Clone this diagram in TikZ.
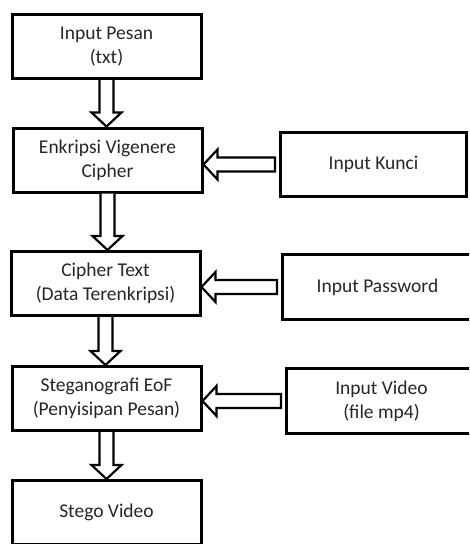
\documentclass[tikz,border=0pt]{standalone}
\usepackage{fontspec}
\setmainfont{Carlito}
\usetikzlibrary{positioning,calc}
\definecolor{inkgray}{HTML}{262626}
\tikzset{
  stepbox/.style={draw=black, line width=3pt, fill=white, minimum width=189pt, minimum height=64pt,
    align=center, text=inkgray, font=\fontsize{19.5}{24}\selectfont},
  inbox/.style={stepbox, minimum width=190pt, minimum height=65pt},
  blockarr/.style={draw=black, fill=white, line width=2.2pt, line join=miter}
}
% hollow block arrow, from #1 down to #2
\newcommand{\downblock}[2]{%
  \draw[blockarr] ($(#1.south)+(-7,0)$) -- ($(#1.south |- #2.north)+(-7,14)$)
    -- ($(#1.south |- #2.north)+(-15,14)$) -- (#1.south |- #2.north)
    -- ($(#1.south |- #2.north)+(15,14)$) -- ($(#1.south |- #2.north)+(7,14)$)
    -- ($(#1.south)+(7,0)$);}
% hollow block arrow, from #1 left to #2
\newcommand{\leftblock}[2]{%
  \draw[blockarr] ($(#1.west)+(-4,7)$) -- ($(#2.east |- #1.west)+(14,7)$)
    -- ($(#2.east |- #1.west)+(14,15)$) -- (#2.east |- #1.west)
    -- ($(#2.east |- #1.west)+(14,-15)$) -- ($(#2.east |- #1.west)+(14,-7)$)
    -- ($(#1.west)+(-4,-7)$) -- cycle;}

\begin{document}
\begin{tikzpicture}[x=1pt,y=1pt]
  \useasboundingbox (0,0) rectangle (469,-544);
  \clip (0,0) rectangle (469,-544);

  \node[stepbox] (pesan) at (106.5,-46.5) {Input Pesan\\(txt)};
  \node[stepbox] (enkripsi) at (107.5,-160) {Enkripsi Vigenere\\Cipher};
  \node[stepbox] (cipher) at (105.5,-283.5) {Cipher Text\\(Data Terenkripsi)};
  \node[stepbox] (stegano) at (106.5,-398.5) {Steganografi EoF\\(Penyisipan Pesan)};
  \node[stepbox] (stegovideo) at (106.5,-512.5) {Stego Video};

  \node[inbox, minimum width=186pt, minimum height=64pt] (kunci) at (373.5,-164.5) {Input Kunci};
  \node[inbox] (password) at (377.5,-287) {Input Password};
  \node[inbox] (video) at (381.5,-401) {Input Video\\(file mp4)};

  \downblock{pesan}{enkripsi}
  \downblock{enkripsi}{cipher}
  \downblock{cipher}{stegano}
  \downblock{stegano}{stegovideo}

  \leftblock{kunci}{enkripsi}
  \leftblock{password}{cipher}
  \leftblock{video}{stegano}
\end{tikzpicture}
\end{document}
